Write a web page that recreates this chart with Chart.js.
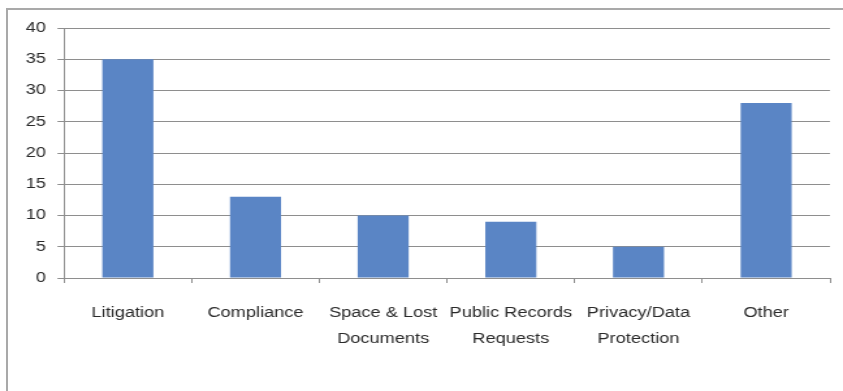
<!DOCTYPE html>
<html>
<head>
<meta charset="utf-8">
<script src="https://cdn.jsdelivr.net/npm/chart.js@4/dist/chart.umd.min.js"></script>
<style>
  html, body { margin: 0; padding: 0; background: #fff; overflow: hidden; }
  #frame {
    position: absolute; left: 6px; top: 8px; width: 900px; height: 500px;
    border-left: 2px solid #a9a9a9; border-top: 2px solid #a9a9a9;
  }
  #wrap {
    position: absolute; left: 0; top: 0; width: 648px; height: 391px;
    transform: scaleX(1.3009); transform-origin: 0 0;
  }
</style>
</head>
<body>
<div id="frame"></div>
<div id="wrap"><canvas id="chart"></canvas></div>
<script>
  var categories = [
    'Litigation',
    'Compliance',
    ['Space & Lost', 'Documents'],
    ['Public Records', 'Requests'],
    ['Privacy/Data', 'Protection'],
    'Other'
  ]
  var counts = [35, 13, 10, 9, 5, 28]
  var yTicks = [0, 5, 10, 15, 20, 25, 30, 35, 40]

  var gridColor = '#8e8e8e'
  var labelFont = { family: "'Liberation Sans', Arial, sans-serif", size: 14, lineHeight: 1.85 }

  var barChartData = {
    labels: categories,
    datasets: [
      {
        label: 'Count',
        backgroundColor: '#5a85c5',
        borderWidth: 0,
        barPercentage: 0.4,
        categoryPercentage: 1,
        data: counts
      }
    ]
  }

  var barChartOptions = {
    responsive: true,
    maintainAspectRatio: false,
    animation: false,
    layout: { padding: { left: 0, top: 28, right: 10, bottom: 0 } },
    plugins: { legend: { display: false }, tooltip: { enabled: false } },
    scales: {
      x: {
        grid: { offset: true, drawOnChartArea: false, drawTicks: true, tickLength: 5, color: gridColor },
        border: { color: gridColor, width: 1 },
        ticks: { color: '#2a2a2a', font: labelFont, padding: 17, maxRotation: 0, autoSkip: false },
        afterFit: function (scale) { scale.height = 113 }
      },
      y: {
        min: 0,
        max: 40,
        afterBuildTicks: function (scale) {
          scale.ticks = yTicks.map(function (v) { return { value: v } })
        },
        grid: { color: gridColor, tickLength: 5, lineWidth: 1 },
        border: { color: gridColor, width: 1 },
        ticks: { color: '#2a2a2a', font: { family: labelFont.family, size: 14 }, padding: 9 },
        afterFit: function (scale) { scale.width = 49.2 }
      }
    }
  }

  var barChart = new Chart(document.getElementById('chart').getContext('2d'), {
    type: 'bar',
    data: barChartData,
    options: barChartOptions
  })
</script>
</body>
</html>
